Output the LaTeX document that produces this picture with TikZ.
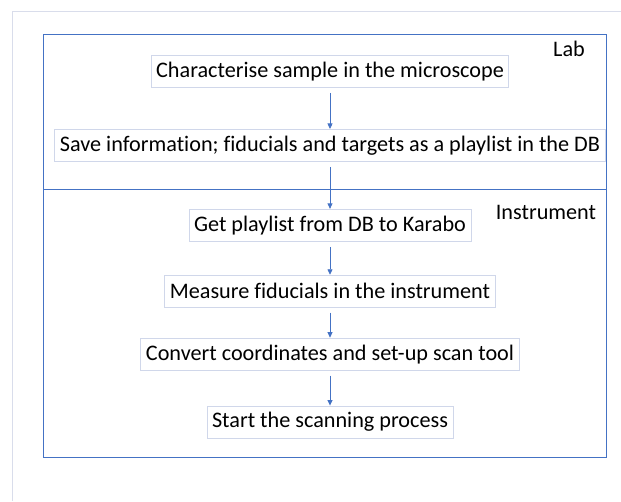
\documentclass[tikz,border=0pt]{standalone}
\usepackage{fontspec}
\setmainfont{Carlito}[Ligatures=NoCommon]
\usepackage{tikz}
\usetikzlibrary{arrows.meta,positioning}
\definecolor{frameblue}{HTML}{4472C4}
\definecolor{boxedge}{HTML}{D0D7EA}
\definecolor{pageedge}{HTML}{D9DDEB}

\begin{document}
\begin{tikzpicture}[
  x=1pt, y=1pt,
  node distance=33pt,
  stepbox/.style={rectangle, draw=boxedge, line width=0.9pt,
                  minimum height=32pt, inner xsep=5pt, inner ysep=2pt,
                  font=\fontsize{22.2}{24}\selectfont},
  flow/.style={-{Triangle[length=5.5pt,width=5pt]}, frameblue, line width=0.8pt,
               shorten <=5pt},
  zone/.style={font=\fontsize{22.2}{24}\selectfont},
]
  \useasboundingbox (0,0) rectangle (621,-501);
  % page edge
  \draw[pageedge, line width=1pt] (12,-501) -- (12,-11) -- (621,-11);
  % lab and instrument areas
  \draw[frameblue, line width=1pt] (43,-34) rectangle (606,-457);
  \draw[frameblue, line width=1pt] (43,-189) -- (606,-189);
  \node[zone] (lab) at (569,-49) {Lab};
  \node[zone] (instr) at (546,-212) {Instrument};

  \node[stepbox] (charac) at (330,-71.5) {Characterise sample in the microscope};
  \node[stepbox, below=41pt of charac] (save) {Save information; fiducials and targets as a playlist in the DB};
  \node[stepbox, below=47pt of save] (getpl) {Get playlist from DB to Karabo};
  \node[stepbox, below=33pt of getpl] (measure) {Measure fiducials in the instrument};
  \node[stepbox, below=30pt of measure] (convert) {Convert coordinates and set-up scan tool};
  \node[stepbox, below=35pt of convert] (scan) {Start the scanning process};

  \draw[flow] (charac) -- (save);
  \draw[flow] (save) -- (getpl);
  \draw[flow] (getpl) -- (measure);
  \draw[flow] (measure) -- (convert);
  \draw[flow] (convert) -- (scan);
\end{tikzpicture}
\end{document}
